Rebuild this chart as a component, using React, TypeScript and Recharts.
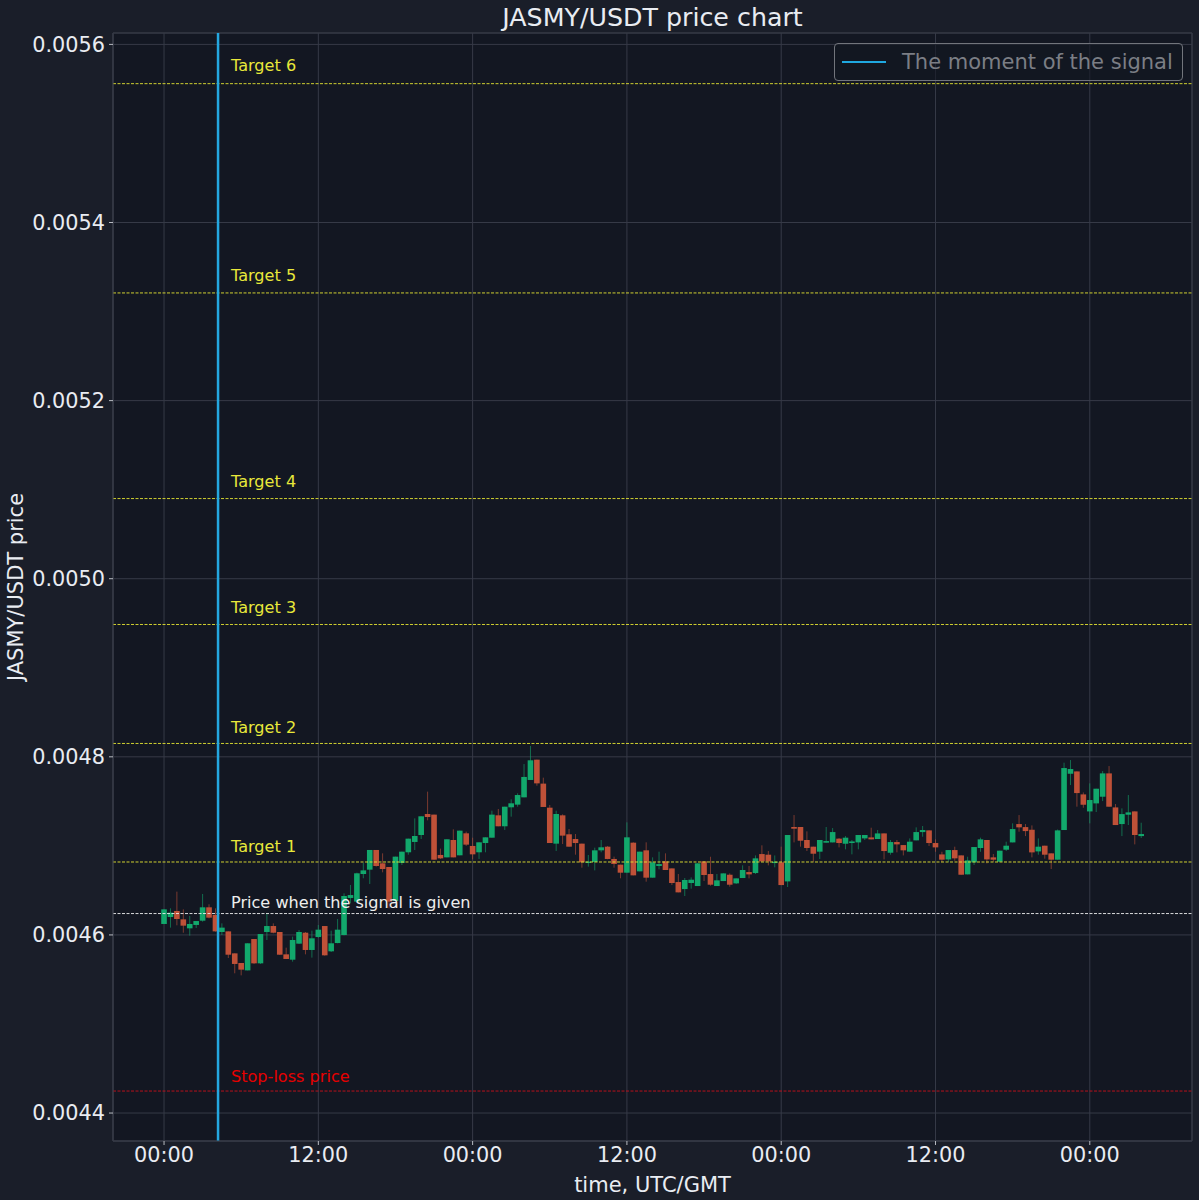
import React from "react";
import { ComposedChart, Bar, XAxis, YAxis, CartesianGrid, ReferenceLine, ReferenceArea, Legend } from "recharts";

const opens = [0.0046123,0.0046201,0.0046269,0.0046175,0.0046074,0.0046112,0.004616,0.004631,0.0046224,0.0046033,0.004604,0.0045793,0.0045685,0.0045602,0.0045954,0.0045681,0.0046033,0.00461,0.0046033,0.0045782,0.0045722,0.0045902,0.0046025,0.0045831,0.0045977,0.00461,0.0045816,0.0045909,0.0045999,0.0046415,0.0046374,0.0046684,0.0046733,0.0046954,0.0046804,0.0046763,0.0046381,0.0046808,0.0046928,0.0047044,0.0047122,0.0047358,0.0047351,0.0046898,0.0046871,0.0047066,0.0046894,0.0047141,0.0046999,0.0046928,0.0047032,0.0047092,0.0047343,0.004722,0.0047433,0.0047463,0.0047545,0.004774,0.0047968,0.0047699,0.0047429,0.0047025,0.0047343,0.004713,0.0047077,0.0047025,0.0046808,0.0046819,0.004695,0.0046991,0.0046853,0.0046789,0.0046699,0.0047036,0.0046714,0.004695,0.0046643,0.0046774,0.0046826,0.0046747,0.0046594,0.0046515,0.0046583,0.0046549,0.0046826,0.0046684,0.0046549,0.0046605,0.0046676,0.0046579,0.0046639,0.0046706,0.0046695,0.0046908,0.0046901,0.0046807,0.0046815,0.0046601,0.0047212,0.0047212,0.0047066,0.0046991,0.0046935,0.0047036,0.0047039,0.0047081,0.0047024,0.0047032,0.0047039,0.0047084,0.0047095,0.0047077,0.004714,0.0046923,0.0047043,0.0047009,0.0046935,0.0047062,0.0047155,0.0047174,0.0047032,0.0046904,0.0046848,0.0046953,0.0046893,0.004668,0.0046815,0.0046976,0.0047066,0.0046871,0.0046822,0.0046957,0.0047039,0.0047245,0.0047211,0.0047181,0.0046938,0.0047002,0.0046916,0.0046845,0.0047178,0.004781,0.0047836,0.0047578,0.0047387,0.0047477,0.0047552,0.0047814,0.0047432,0.0047245,0.004735,0.0047387,0.004711];
const highs = [0.0046287,0.0046299,0.0046486,0.0046287,0.0046213,0.0046156,0.004646,0.0046344,0.0046299,0.004613,0.004604,0.0045793,0.0045685,0.0045906,0.0045954,0.004601,0.0046243,0.004613,0.0046033,0.0045857,0.0045981,0.0046055,0.0046033,0.0046048,0.0046112,0.00461,0.0046048,0.0046179,0.0046467,0.0046561,0.0046699,0.0046811,0.0046954,0.0046954,0.0046916,0.0046763,0.0046879,0.0046935,0.0047081,0.0047309,0.0047332,0.0047609,0.0047351,0.0046969,0.0047074,0.0047186,0.0047171,0.004716,0.0047092,0.004704,0.0047096,0.0047395,0.0047414,0.004744,0.0047523,0.004759,0.0047919,0.0048122,0.0047968,0.0047766,0.0047459,0.0047395,0.0047354,0.004719,0.0047133,0.0047025,0.0046898,0.004698,0.0047066,0.0046999,0.0046879,0.0046789,0.0047264,0.004704,0.0046935,0.004704,0.0046871,0.0046935,0.0046916,0.0046747,0.0046684,0.0046639,0.0046646,0.0046804,0.0046826,0.0046878,0.0046684,0.0046691,0.0046691,0.0046635,0.0046781,0.0046774,0.0046893,0.0047006,0.0046942,0.0046893,0.0046991,0.0047122,0.0047346,0.0047212,0.0047163,0.0046991,0.0047066,0.0047212,0.00472,0.0047088,0.004711,0.0047066,0.0047122,0.0047122,0.0047204,0.0047178,0.004714,0.0047066,0.0047066,0.0047009,0.0047084,0.0047208,0.0047223,0.0047174,0.0047073,0.0046934,0.0046953,0.0046991,0.0046893,0.0046878,0.0046987,0.0047092,0.0047066,0.0046908,0.0046946,0.0047047,0.0047253,0.0047346,0.0047245,0.004723,0.0047084,0.0047002,0.0046916,0.0047184,0.0047934,0.0047964,0.0047836,0.00476,0.0047702,0.0047642,0.004784,0.0047896,0.004747,0.0047421,0.0047571,0.0047387,0.004726];
const lows = [0.0046123,0.0046082,0.0046108,0.0046025,0.0045992,0.0046078,0.0046149,0.0046186,0.0046037,0.0045999,0.0045741,0.0045569,0.0045546,0.0045602,0.0045674,0.0045674,0.0045943,0.0046018,0.0045775,0.004573,0.00457,0.0045898,0.0045782,0.0045745,0.0045969,0.0045767,0.0045808,0.0045906,0.0045995,0.0046355,0.0046366,0.0046636,0.0046572,0.0046767,0.0046703,0.0046299,0.0046381,0.0046785,0.0046901,0.0046954,0.0047077,0.0047287,0.0046845,0.0046853,0.0046871,0.0046871,0.0046894,0.0046999,0.0046849,0.0046853,0.0046928,0.0047092,0.004722,0.0047179,0.0047328,0.004744,0.0047545,0.004774,0.0047676,0.0047437,0.0047032,0.0046943,0.0047021,0.0046991,0.0046901,0.0046755,0.0046767,0.0046725,0.0046928,0.0046849,0.0046755,0.0046636,0.0046699,0.0046669,0.0046714,0.0046598,0.0046643,0.0046736,0.0046729,0.004656,0.0046478,0.0046437,0.0046519,0.0046549,0.0046605,0.0046553,0.0046549,0.0046605,0.0046542,0.0046572,0.0046639,0.0046635,0.0046684,0.0046819,0.0046781,0.0046759,0.004656,0.0046538,0.0047039,0.0046991,0.0046942,0.0046822,0.0046852,0.0047036,0.0047039,0.0046983,0.0046961,0.0046905,0.0046961,0.0047066,0.0047073,0.0047077,0.0046848,0.0046901,0.0046927,0.0046893,0.0046935,0.0047062,0.0047103,0.0046998,0.0046934,0.0046818,0.0046818,0.0046833,0.0046676,0.004668,0.0046785,0.0046934,0.0046803,0.0046822,0.0046822,0.0046942,0.0047039,0.0047159,0.004711,0.0046871,0.0046901,0.0046856,0.004674,0.0046845,0.0047178,0.0047683,0.004744,0.0047428,0.0047253,0.004738,0.0047503,0.004744,0.0047234,0.004711,0.0047234,0.0047017,0.0047088];
const closes = [0.0046287,0.004625,0.0046179,0.0046104,0.0046123,0.0046156,0.004631,0.0046194,0.004604,0.0046082,0.0045778,0.0045674,0.004561,0.0045906,0.0045681,0.004601,0.00461,0.0046025,0.0045778,0.004573,0.0045943,0.0046033,0.0045831,0.0045962,0.0046059,0.0045771,0.0045906,0.0046059,0.0046437,0.0046448,0.0046692,0.0046725,0.0046954,0.0046774,0.004674,0.0046374,0.0046879,0.0046935,0.0047081,0.0047111,0.0047332,0.0047324,0.0046845,0.004686,0.0047074,0.0046871,0.0047171,0.0047014,0.0046905,0.004704,0.0047096,0.0047351,0.004722,0.004744,0.0047478,0.0047571,0.0047774,0.0047961,0.0047702,0.0047437,0.0047032,0.0047358,0.0047115,0.0046991,0.0047032,0.0046815,0.0046823,0.004695,0.0046984,0.0046853,0.0046797,0.0046699,0.0047096,0.0046669,0.0046935,0.0046643,0.0046815,0.0046796,0.0046729,0.0046583,0.0046478,0.0046617,0.004662,0.0046804,0.0046673,0.0046564,0.0046613,0.0046691,0.0046564,0.0046635,0.0046729,0.004668,0.004686,0.0046826,0.0046826,0.0046822,0.004656,0.0047122,0.0047193,0.0047058,0.0046976,0.0046912,0.0047066,0.0047054,0.0047155,0.0047032,0.0047092,0.004705,0.0047122,0.0047122,0.0047073,0.004714,0.0046942,0.0047043,0.0047017,0.004695,0.0047047,0.0047155,0.0047178,0.0047032,0.0046983,0.0046845,0.0046953,0.004686,0.0046676,0.0046837,0.0046987,0.0047073,0.0046848,0.0046845,0.0046946,0.0047002,0.0047189,0.0047208,0.0047166,0.0046927,0.0046991,0.0046901,0.0046845,0.0047174,0.0047874,0.0047863,0.0047593,0.0047462,0.0047515,0.0047642,0.0047814,0.004744,0.0047234,0.0047357,0.0047376,0.0047122,0.0047133];

const xTicks = [0, 12, 24, 36, 48, 60, 72];
const xTickLabels = ["00:00", "12:00", "00:00", "12:00", "00:00", "12:00", "00:00"];
const yTicks = [0.0044, 0.0046, 0.0048, 0.005, 0.0052, 0.0054, 0.0056];
const signalHour = 4.2;
const levelNames = ["Target 6", "Target 5", "Target 4", "Target 3", "Target 2", "Target 1", "Price when the signal is given", "Stop-loss price"];
const levelPrices = [0.0055559, 0.0053209, 0.005090, 0.0049486, 0.004815, 0.0046819, 0.004624, 0.0044247];
const levelColors = ["#e4e432", "#e4e432", "#e4e432", "#e4e432", "#e4e432", "#e4e432", "#f0f0f0", "#c8101c"];
const levelTextColors = ["#e8e83a", "#e8e83a", "#e8e83a", "#e8e83a", "#e8e83a", "#e8e83a", "#eeeeee", "#e60000"];
const levelLabelDy = [-18.4, -17.4, -17.5, -17, -16, -15.4, -11.5, -15];

const rows = opens.map((o, i) => ({
  hour: i * 0.5,
  open: o,
  high: highs[i],
  low: lows[i],
  close: closes[i],
  range: [lows[i], highs[i]],
}));

const GREEN = "#12a86c";
const RED = "#bf5138";
const BODY_WIDTH = 5.6;

function Candle(props: any) {
  const { x, y, width, height, payload } = props;
  const { open, close, high, low } = payload;
  const up = close >= open;
  const color = up ? GREEN : RED;
  const perUnit = height / (high - low);
  const top = y + (high - Math.max(open, close)) * perUnit;
  const h = Math.max(Math.abs(open - close) * perUnit, 1);
  const cx = x + width / 2;
  return (
    <g>
      <line x1={cx} x2={cx} y1={y} y2={y + height} stroke={color} strokeOpacity={0.6} strokeWidth={1} />
      <rect x={cx - BODY_WIDTH / 2} y={top} width={BODY_WIDTH} height={h} fill={color} />
    </g>
  );
}

const FONT = "'DejaVu Sans', sans-serif";
const BG = "#1a1e29";
const PLOT = "#131722";
const LINE = "#363a47";
const TEXT = "#e9ecf2";
const X_DOMAIN = [-3.97, 79.95];
const Y_DOMAIN = [0.0043686, 0.0056128];

function LegendBox() {
  return (
    <div
      style={{
        boxSizing: "border-box",
        width: 349,
        height: 38,
        border: "1px solid #72757c",
        borderRadius: 4,
        background: "rgba(19,23,34,0.6)",
        display: "flex",
        alignItems: "center",
        fontFamily: FONT,
        fontSize: 21,
        color: "#7b7e85",
        whiteSpace: "nowrap",
      }}
    >
      <span style={{ display: "inline-block", width: 44, height: 2, background: "#1fa8e0", marginLeft: 7, marginRight: 16 }} />
      The moment of the signal
    </div>
  );
}

export default function App() {
  return (
    <div style={{ position: "absolute", left: 0, top: 0, width: 1199, height: 1200, background: BG, overflow: "hidden" }}>
      <div
        style={{
          position: "absolute",
          left: 113,
          width: 1079,
          top: 3,
          textAlign: "center",
          fontFamily: FONT,
          fontSize: 25.3,
          color: TEXT,
          lineHeight: "30px",
        }}
      >
        JASMY/USDT price chart
      </div>
      <ComposedChart
        width={1199}
        height={1200}
        data={rows}
        margin={{ top: 33, right: 7, bottom: 0, left: 0 }}
        style={{ position: "absolute", left: 0, top: 0 }}
      >
        <CartesianGrid stroke={LINE} strokeWidth={1} fill={PLOT} />
        <XAxis
          dataKey="hour"
          type="number"
          domain={X_DOMAIN}
          ticks={xTicks}
          allowDataOverflow
          height={59}
          interval={0}
          tickFormatter={(h: number) => xTickLabels[xTicks.indexOf(h)]}
          tick={{ fill: TEXT, fontSize: 20.8, fontFamily: FONT }}
          tickLine={{ stroke: "#b8bbc2" }}
          tickSize={4}
          axisLine={{ stroke: LINE }}
          label={{ value: "time, UTC/GMT", position: "insideBottom", offset: 8, fill: TEXT, fontSize: 21, fontFamily: FONT }}
        />
        <YAxis
          type="number"
          domain={Y_DOMAIN}
          ticks={yTicks}
          allowDataOverflow
          width={113}
          interval={0}
          tickFormatter={(v: number) => v.toFixed(4)}
          tick={{ fill: TEXT, fontSize: 20.8, fontFamily: FONT }}
          tickLine={{ stroke: "#b8bbc2" }}
          tickSize={4}
          tickMargin={4}
          axisLine={{ stroke: LINE }}
          label={{ value: "JASMY/USDT price", angle: -90, position: "insideLeft", offset: 16, fill: TEXT, fontSize: 21, fontFamily: FONT, style: { textAnchor: "middle" } }}
        />
        <ReferenceArea x1={X_DOMAIN[0]} x2={X_DOMAIN[1]} y1={Y_DOMAIN[0]} y2={Y_DOMAIN[1]} fill="none" stroke={LINE} strokeWidth={1} />
        <Bar dataKey="range" barSize={6.4} shape={Candle} isAnimationActive={false} />
        {levelPrices.map((p, i) => (
          <ReferenceLine
            key={levelNames[i]}
            y={p}
            stroke={levelColors[i]}
            strokeWidth={0.9}
            strokeDasharray="3 1.5"
            label={(lp: any) => (
              <text
                x={lp.viewBox.x + 118}
                y={lp.viewBox.y + levelLabelDy[i]}
                fill={levelTextColors[i]}
                fontSize={16.1}
                fontFamily={FONT}
                dominantBaseline="central"
              >
                {levelNames[i]}
              </text>
            )}
          />
        ))}
        <ReferenceLine x={signalHour} stroke="#24a7e0" strokeWidth={2.5} />
        <Legend
          layout="horizontal"
          align="center"
          verticalAlign="middle"
          content={() => <LegendBox />}
          wrapperStyle={{ position: "absolute", left: 834, top: 43, width: 349, bottom: "auto", right: "auto" }}
        />
      </ComposedChart>
    </div>
  );
}
